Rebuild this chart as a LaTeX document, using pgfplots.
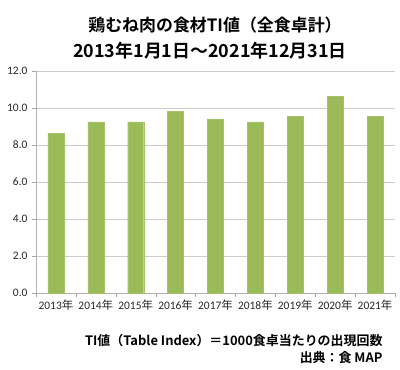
\documentclass[border=0pt]{standalone}
\usepackage{pgfplots}
\pgfplotsset{compat=1.18}
\usepackage{fontspec}
\setmainfont{Carlito}
\newfontfamily\jp{Noto Sans CJK JP}
\newfontfamily\jpb{Noto Sans CJK JP Bold}
\definecolor{barg}{HTML}{9BBB59}
\begin{document}
\begin{tikzpicture}
\useasboundingbox (0bp,0bp) rectangle (400bp,-370bp);
\begin{axis}[
  at={(36bp,-293.3bp)}, anchor=south west,
  scale only axis, width=359bp, height=222.3bp,
  xmin=-0.5, xmax=8.5, ymin=0, ymax=12,
  ytick={0,2,...,12},
  yticklabel style={/pgf/number format/fixed,/pgf/number format/fixed zerofill,/pgf/number format/precision=1},
  /pgf/number format/assume math mode=true,
  xtick={0,...,8},
  xticklabels={2013{\jp 年},2014{\jp 年},2015{\jp 年},2016{\jp 年},2017{\jp 年},2018{\jp 年},2019{\jp 年},2020{\jp 年},2021{\jp 年}},
  minor xtick={-0.5,0.5,...,8.5},
  major x tick style={draw=none},
  minor x tick style={draw=gray!70},
  y tick style={draw=gray!70},
  tick align=outside,
  major tick length=4bp, minor tick length=4bp,
  ymajorgrids, grid style={draw=gray!40, line width=0.8pt},
  axis x line*=bottom, axis y line*=left,
  axis line style={draw=gray!60, -},
  tick label style={font=\fontsize{11.5}{13}\selectfont, text=black!85},
  xticklabel style={yshift=1bp},
  yticklabel style={xshift=-1bp},
]
\addplot[ybar, bar width=16bp, fill=barg, draw=barg!90!white] coordinates {
(0,8.65) (1,9.25) (2,9.26) (3,9.84) (4,9.39) (5,9.26) (6,9.57) (7,10.62) (8,9.57)};
\end{axis}
\node[font=\jpb\fontsize{17}{20}\selectfont] at (215bp,-25bp) {鶏むね肉の食材TI値（全食卓計）};
\node[font=\jpb\fontsize{18}{20}\selectfont] at (210bp,-51bp) {2013年1月1日～2021年12月31日};
\node[font=\jpb\fontsize{13}{15}\selectfont, anchor=east] at (386bp,-341bp) {TI値（Table Index）＝1000食卓当たりの出現回数};
\node[font=\jpb\fontsize{13}{15}\selectfont, anchor=east] at (386bp,-358bp) {出典：食 MAP};
\end{tikzpicture}
\end{document}
